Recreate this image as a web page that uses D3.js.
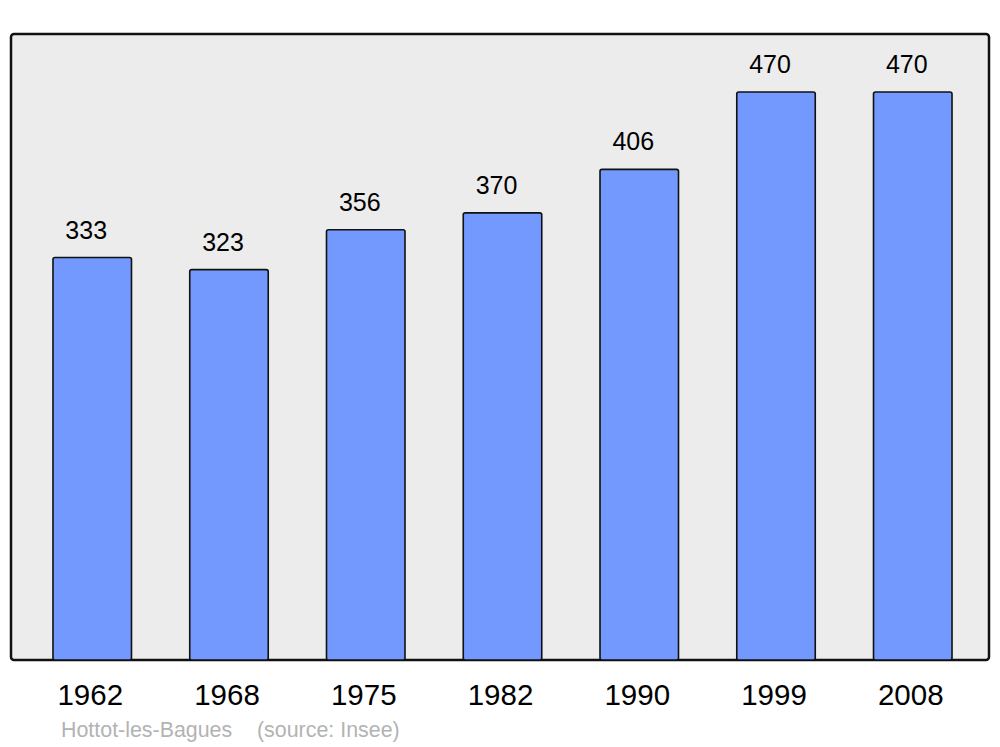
<!DOCTYPE html>
<html>
<head>
<meta charset="utf-8">
<script src="https://cdn.jsdelivr.net/npm/d3@7"></script>
<style>
  body { margin: 0; background: #ffffff; }
  svg { display: block; font-family: "Liberation Sans", Arial, sans-serif; }
</style>
</head>
<body>
<svg id="CHART" width="1000" height="747"></svg>
<script>
// chart data
var years = ["1962", "1968", "1975", "1982", "1990", "1999", "2008"];
var population = [333, 323, 356, 370, 406, 470, 470];
var commune = "Hottot-les-Bagues";
var sourceText = "(source: Insee)";

let svg = d3.select("#CHART");

// panel box
const PANEL = { LEFT: 11, TOP: 34, RIGHT: 989, BOTTOM: 660 };

svg.append("rect")
  .attr("x", PANEL.LEFT)
  .attr("y", PANEL.TOP)
  .attr("width", PANEL.RIGHT - PANEL.LEFT)
  .attr("height", PANEL.BOTTOM - PANEL.TOP)
  .attr("rx", 3)
  .attr("fill", "#ececec")
  .attr("stroke", "#111111")
  .attr("stroke-width", 2.5);

// scales
let xScale = d3.scaleBand()
  .domain(years)
  .range([PANEL.LEFT, 994])
  .paddingInner(0.426)
  .paddingOuter(0.307);

let yScale = d3.scaleLinear()
  .domain([0, 518])
  .range([PANEL.BOTTOM, PANEL.TOP]);

let data = years.map((y, i) => ({ year: y, value: population[i] }));

// bars
svg.selectAll("rect.bar")
  .data(data)
  .enter()
  .append("rect")
  .attr("class", "bar")
  .attr("x", d => xScale(d.year))
  .attr("y", d => yScale(d.value))
  .attr("width", xScale.bandwidth())
  .attr("height", d => yScale(0) - yScale(d.value))
  .attr("rx", 2)
  .attr("fill", "#7399ff")
  .attr("stroke", "#111111")
  .attr("stroke-width", 1.6);

// value labels
svg.selectAll("text.val")
  .data(data)
  .enter()
  .append("text")
  .attr("class", "val")
  .attr("x", d => xScale(d.year) + xScale.bandwidth() / 2 - 6)
  .attr("y", d => yScale(d.value) - 19)
  .attr("text-anchor", "middle")
  .style("font-size", "25px")
  .style("fill", "#000000")
  .text(d => d.value);

// year labels (x axis)
let xAxis = d3.axisBottom(xScale).tickSize(0).tickPadding(0);
let axisG = svg.append("g")
  .attr("transform", "translate(-2," + (PANEL.BOTTOM + 45) + ")")
  .call(xAxis);
axisG.select(".domain").remove();
axisG.selectAll("text")
  .attr("dy", 0)
  .style("font-family", "'Liberation Sans', Arial, sans-serif")
  .style("font-size", "29.5px")
  .style("fill", "#000000");

// source line
svg.append("text")
  .attr("x", 61)
  .attr("y", 737)
  .style("font-size", "21.4px")
  .style("fill", "#b3b3b3")
  .text(commune);

svg.append("text")
  .attr("x", 257)
  .attr("y", 737)
  .style("font-size", "21.4px")
  .style("fill", "#b3b3b3")
  .text(sourceText);
</script>
</body>
</html>
